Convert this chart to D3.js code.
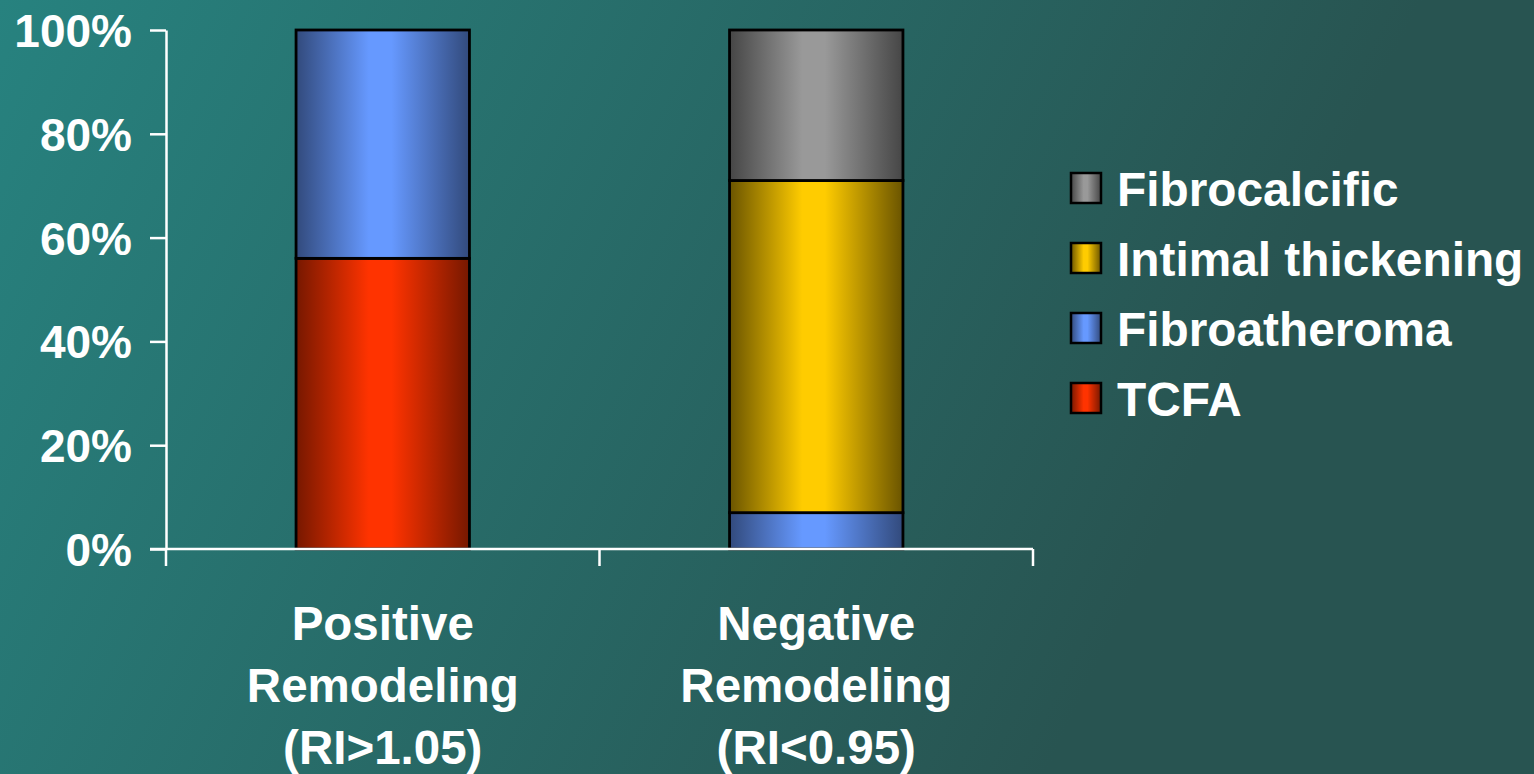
<!DOCTYPE html>
<html>
<head>
<meta charset="utf-8">
<script src="https://cdn.jsdelivr.net/npm/d3@7"></script>
<style>
  html, body { margin: 0; padding: 0; overflow: hidden; }
  svg { display: block; }
  text { font-family: "Liberation Sans", Arial, sans-serif; font-weight: bold; fill: #ffffff; }
</style>
</head>
<body>
<svg id="chart" width="1534" height="774"></svg>
<script>
// Plaque composition by remodeling type (percent of lesions)
const categories = [
  ["Positive", "Remodeling", "(RI>1.05)"],
  ["Negative", "Remodeling", "(RI<0.95)"]
];
const seriesNames = ["TCFA", "Fibroatheroma", "Intimal thickening", "Fibrocalcific"];
const tcfa = [56, 0];
const fibroatheroma = [44, 7];
const intimalThickening = [0, 64];
const fibrocalcific = [0, 29];
const yTicks = [0, 20, 40, 60, 80, 100];

// dark edge / bright centre for each series' cylinder shading
const shades = {
  "TCFA": ["#761800", "#ff3300"],
  "Fibroatheroma": ["#324a7c", "#6699ff"],
  "Intimal thickening": ["#6a5400", "#ffcc00"],
  "Fibrocalcific": ["#464646", "#999999"]
};

const W = 1534, H = 774;
const svg = d3.select("#chart");
const defs = svg.append("defs");

// background
const bg = defs.append("linearGradient").attr("id", "bg")
  .attr("gradientUnits", "userSpaceOnUse")
  .attr("x1", 0).attr("y1", 0).attr("x2", 1150).attr("y2", 560);
bg.append("stop").attr("offset", 0).attr("stop-color", "#27827f");
bg.append("stop").attr("offset", 1).attr("stop-color", "#285451");
svg.append("rect").attr("width", W).attr("height", H).attr("fill", "url(#bg)");

seriesNames.forEach((s, i) => {
  const g = defs.append("linearGradient").attr("id", "grad" + i)
    .attr("x1", 0).attr("y1", 0).attr("x2", 1).attr("y2", 0);
  const [dark, bright] = shades[s];
  g.append("stop").attr("offset", 0).attr("stop-color", dark);
  g.append("stop").attr("offset", 0.42).attr("stop-color", bright);
  g.append("stop").attr("offset", 0.55).attr("stop-color", bright);
  g.append("stop").attr("offset", 1).attr("stop-color", dark);
});

const plotLeft = 166, plotRight = 1033, plotTop = 30, plotBottom = 549;
const keys = categories.map(c => c.join(" "));
const x = d3.scaleBand().domain(keys).range([plotLeft, plotRight]).paddingInner(0.6).paddingOuter(0.3);
const y = d3.scaleLinear().domain([0, 100]).range([plotBottom, plotTop]);

const rows = keys.map((k, i) => ({
  key: k,
  "TCFA": tcfa[i],
  "Fibroatheroma": fibroatheroma[i],
  "Intimal thickening": intimalThickening[i],
  "Fibrocalcific": fibrocalcific[i]
}));
const stacked = d3.stack().keys(seriesNames)(rows);

// bars
stacked.forEach((layer, i) => {
  svg.append("g").selectAll("rect")
    .data(layer.filter(d => d[1] - d[0] > 0))
    .join("rect")
    .attr("x", d => x(d.data.key))
    .attr("width", x.bandwidth())
    .attr("y", d => y(d[1]))
    .attr("height", d => y(d[0]) - y(d[1]))
    .attr("fill", `url(#grad${i})`)
    .attr("stroke", "#000")
    .attr("stroke-width", 2.8);
});

// y axis
const yAxis = svg.append("g").attr("transform", `translate(${plotLeft},0)`)
  .call(d3.axisLeft(y).tickValues(yTicks).tickFormat(d => d + "%").tickSize(16).tickSizeOuter(0).tickPadding(18));
yAxis.select(".domain").attr("stroke", "#fff").attr("stroke-width", 2.5);
yAxis.selectAll(".tick line").attr("stroke", "#fff").attr("stroke-width", 2.5);
yAxis.selectAll(".tick text")
  .attr("fill", "#fff").attr("font-size", 46).attr("font-family", "Liberation Sans, Arial, sans-serif")
  .attr("font-weight", "bold").attr("dy", "0.36em");

// x axis baseline and category boundary ticks
svg.append("line").attr("x1", plotLeft - 16).attr("x2", plotRight).attr("y1", plotBottom).attr("y2", plotBottom)
  .attr("stroke", "#fff").attr("stroke-width", 2.5);
const bounds = [plotLeft].concat(keys.map(k => x(k) - x.step() * x.paddingOuter() + x.step()));
svg.append("g").selectAll("line").data(bounds).join("line")
  .attr("x1", d => d).attr("x2", d => d).attr("y1", plotBottom).attr("y2", plotBottom + 17)
  .attr("stroke", "#fff").attr("stroke-width", 2.5);

// category labels
const lab = svg.append("g").selectAll("text").data(categories).join("text")
  .attr("text-anchor", "middle")
  .attr("font-size", 47.5)
  .attr("transform", (d, i) => `translate(${x(keys[i]) + x.bandwidth() / 2},640)`);
lab.selectAll("tspan").data(d => d).join("tspan")
  .attr("x", 0).attr("y", (d, i) => i * 62).text(d => d);

// legend (top series first)
const legendOrder = seriesNames.slice().reverse();
const lg = svg.append("g").selectAll("g").data(legendOrder).join("g")
  .attr("transform", (d, i) => `translate(1071,${173 + i * 70})`);
lg.append("rect").attr("width", 30).attr("height", 30)
  .attr("fill", d => `url(#grad${seriesNames.indexOf(d)})`)
  .attr("stroke", "#000").attr("stroke-width", 2.5);
lg.append("text").attr("x", 46).attr("y", 33).attr("font-size", 47.8).text(d => d);
</script>
</body>
</html>
